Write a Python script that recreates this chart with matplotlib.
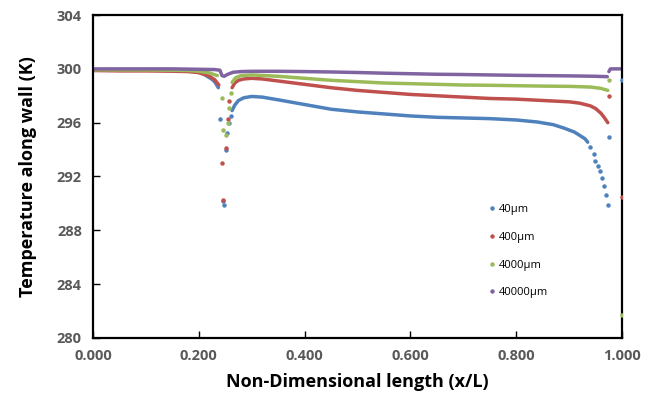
import matplotlib
matplotlib.use("Agg")
import matplotlib.pyplot as plt

BLUE = "#4F81BD"
RED = "#C0504D"
GREEN = "#9BBB59"
PURPLE = "#8064A2"
TICK_GREY = "#595959"

labels = ["40\u00b5m", "400\u00b5m", "4000\u00b5m", "40000\u00b5m"]

# dense (near-continuous) parts of each series
blue_x = [0.00, 0.05, 0.10, 0.15, 0.18, 0.20, 0.21, 0.22, 0.226, 0.231, 0.237]
blue_y = [299.9, 299.9, 299.9, 299.88, 299.85, 299.75, 299.6, 299.35, 299.2, 299.0, 298.6]
blue_x2 = [0.263, 0.268, 0.275, 0.285, 0.30, 0.32, 0.35, 0.40, 0.45, 0.50, 0.55,
           0.60, 0.65, 0.70, 0.75, 0.80, 0.84, 0.87, 0.89, 0.91, 0.92, 0.93, 0.935]
blue_y2 = [296.9, 297.3, 297.65, 297.85, 297.95, 297.9, 297.7, 297.35, 297.0, 296.8, 296.65,
           296.5, 296.4, 296.35, 296.3, 296.2, 296.05, 295.85, 295.6, 295.3, 295.05, 294.8, 294.55]
blue_px = [0.240, 0.245, 0.247, 0.251, 0.254, 0.258, 0.261,
           0.940, 0.946, 0.949, 0.955, 0.958, 0.962, 0.966, 0.969, 0.973, 0.975, 1.0]
blue_py = [296.25, 290.2, 289.9, 293.97, 295.2, 296.0, 296.5,
           294.2, 293.7, 293.15, 292.8, 292.4, 291.9, 291.3, 290.65, 289.85, 294.9, 299.2]

red_x = [0.00, 0.05, 0.10, 0.15, 0.18, 0.20, 0.21, 0.22, 0.23, 0.238]
red_y = [299.88, 299.85, 299.85, 299.83, 299.8, 299.72, 299.6, 299.45, 299.2, 298.8]
red_x2 = [0.263, 0.268, 0.275, 0.285, 0.30, 0.32, 0.35, 0.40, 0.45, 0.50, 0.55, 0.60,
          0.65, 0.70, 0.75, 0.80, 0.85, 0.90, 0.92, 0.94, 0.95, 0.96, 0.966, 0.973]
red_y2 = [298.6, 298.95, 299.15, 299.25, 299.3, 299.25, 299.1, 298.85, 298.6, 298.4, 298.25, 298.1,
          298.0, 297.9, 297.8, 297.75, 297.65, 297.55, 297.45, 297.25, 297.05, 296.7, 296.4, 296.0]
red_px = [0.244, 0.246, 0.251, 0.255, 0.257, 0.975, 1.0]
red_py = [293.0, 290.23, 294.1, 296.3, 297.6, 297.95, 290.5]

green_x = [0.00, 0.05, 0.10, 0.15, 0.18, 0.20, 0.22, 0.235]
green_y = [299.93, 299.92, 299.92, 299.9, 299.88, 299.82, 299.7, 299.5]
green_x2 = [0.263, 0.27, 0.28, 0.30, 0.35, 0.40, 0.45, 0.50, 0.55, 0.60, 0.65, 0.70,
            0.75, 0.80, 0.85, 0.90, 0.94, 0.96, 0.973]
green_y2 = [299.0, 299.35, 299.5, 299.55, 299.45, 299.3, 299.15, 299.05, 298.95, 298.9, 298.85, 298.8,
            298.78, 298.75, 298.72, 298.7, 298.65, 298.55, 298.4]
green_px = [0.243, 0.246, 0.251, 0.255, 0.257, 0.261, 0.975, 1.0]
green_py = [297.85, 295.45, 295.1, 296.0, 297.1, 298.2, 299.2, 281.7]

purple_x = [0.00, 0.05, 0.10, 0.15, 0.20, 0.23, 0.24, 0.244, 0.248, 0.255, 0.265, 0.28,
            0.30, 0.35, 0.40, 0.45, 0.50, 0.55, 0.60, 0.65, 0.70, 0.75, 0.80, 0.85,
            0.90, 0.95, 0.972]
purple_y = [300.0, 300.0, 300.0, 300.0, 299.97, 299.95, 299.9, 299.5, 299.45, 299.6, 299.75, 299.8,
            299.82, 299.82, 299.8, 299.77, 299.73, 299.68, 299.64, 299.6, 299.58, 299.55, 299.52, 299.5,
            299.48, 299.45, 299.42]
purple_x2 = [0.975, 0.978, 0.985, 0.99, 1.0]
purple_y2 = [299.8, 300.0, 300.0, 300.0, 300.0]

series = [
    (BLUE, [(blue_x, blue_y), (blue_x2, blue_y2)], (blue_px, blue_py)),
    (RED, [(red_x, red_y), (red_x2, red_y2)], (red_px, red_py)),
    (GREEN, [(green_x, green_y), (green_x2, green_y2)], (green_px, green_py)),
    (PURPLE, [(purple_x, purple_y), (purple_x2, purple_y2)], ([], [])),
]

plt.rcParams.update({"font.family": ["Open Sans", "DejaVu Sans"]})
fig = plt.figure(figsize=(6.59, 4.08), dpi=100)
ax = fig.add_axes([0.141, 0.172, 0.803, 0.791])

# smooth stretches are drawn as thick lines (they look like packed dots),
# the scattered nodes near the steps as single markers
for (color, curves, pts), lab in zip(series, labels):
    for cx, cy in curves:
        ax.plot(cx, cy, color=color, lw=2.5, solid_capstyle="round", zorder=2)
    ax.plot(pts[0], pts[1], "o", color=color, ms=3.2, mew=0, zorder=3)
    ax.plot([], [], "o", color=color, ms=3.2, mew=0, label=lab)

ax.set_xlim(0, 1.0)
ax.set_ylim(280, 304)
ax.set_xticks([0.0, 0.2, 0.4, 0.6, 0.8, 1.0])
ax.set_xticklabels(["0.000", "0.200", "0.400", "0.600", "0.800", "1.000"])
ax.set_yticks([280, 284, 288, 292, 296, 300, 304])
ax.tick_params(direction="in", length=5, width=1, color="black",
               labelsize=10.5, labelcolor=TICK_GREY, pad=8)
for lbl in ax.get_xticklabels() + ax.get_yticklabels():
    lbl.set_fontweight("bold")
for sp in ax.spines.values():
    sp.set_linewidth(1.6)
    sp.set_color("black")

ax.set_xlabel("Non-Dimensional length (x/L)", fontsize=13, fontweight="bold", labelpad=7)
ax.set_ylabel("Temperature along wall (K)", fontsize=13, fontweight="bold", labelpad=14)

ax.legend(loc="upper left", bbox_to_anchor=(0.725, 0.445), frameon=False, fontsize=8,
          handletextpad=0.1, handlelength=1.0, labelspacing=1.5, markerscale=1.0)

fig.savefig("out.png", dpi=100)
